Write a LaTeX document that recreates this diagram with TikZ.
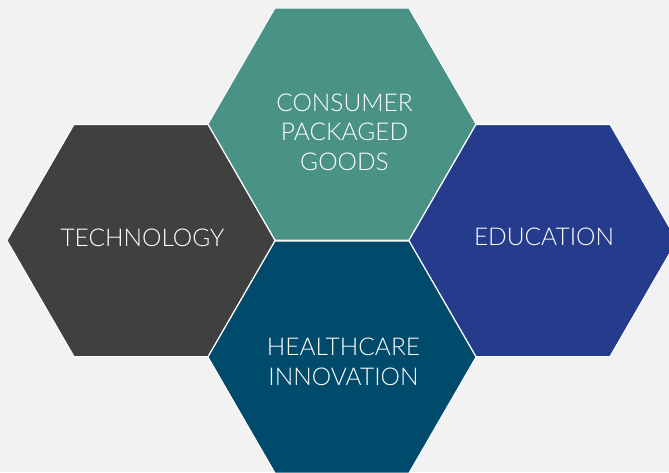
\documentclass[tikz,border=0pt]{standalone}
\usepackage{fontspec}
\setmainfont{Lato Light}
\definecolor{bg}{HTML}{F2F2F2}
\definecolor{techc}{HTML}{404041}
\definecolor{consc}{HTML}{4A9186}
\definecolor{educ}{HTML}{253C8C}
\definecolor{healc}{HTML}{004B6B}
\tikzset{
  hexlabel/.style={text=white,align=center,anchor=base,inner sep=0pt,
    font=\fontsize{24.5}{29.5}\selectfont},
  hexborder/.style={draw=white,line width=1pt,line join=miter}
}
\newcommand{\hexat}[3]{% center x, center y, color
  \fill[#3] (#1-134,#2) -- (#1-67,#2-116) -- (#1+67,#2-116) -- (#1+134,#2)
    -- (#1+67,#2+116) -- (#1-67,#2+116) -- cycle;
  \draw[hexborder] (#1-134,#2) -- (#1-67,#2-116) -- (#1+67,#2-116) -- (#1+134,#2)
    -- (#1+67,#2+116) -- (#1-67,#2+116) -- cycle;
}
\begin{document}
\begin{tikzpicture}[x=1pt,y=-1pt]
\fill[bg] (0,0) rectangle (669,472);
\useasboundingbox (0,0) rectangle (669,472);
\clip (0,0) rectangle (669,472);
\hexat{141}{240.5}{techc}
\hexat{342}{124}{consc}
\hexat{543}{240.5}{educ}
\hexat{342}{357}{healc}
\node[hexlabel] (tech) at (142.5,246) {TECHNOLOGY};
\node[hexlabel] (cons) at (344.5,170) {CONSUMER\\PACKAGED\\GOODS};
\node[hexlabel] (edu) at (544,245) {EDUCATION};
\node[hexlabel] (heal) at (343.5,385) {HEALTHCARE\\INNOVATION};
\end{tikzpicture}
\end{document}
